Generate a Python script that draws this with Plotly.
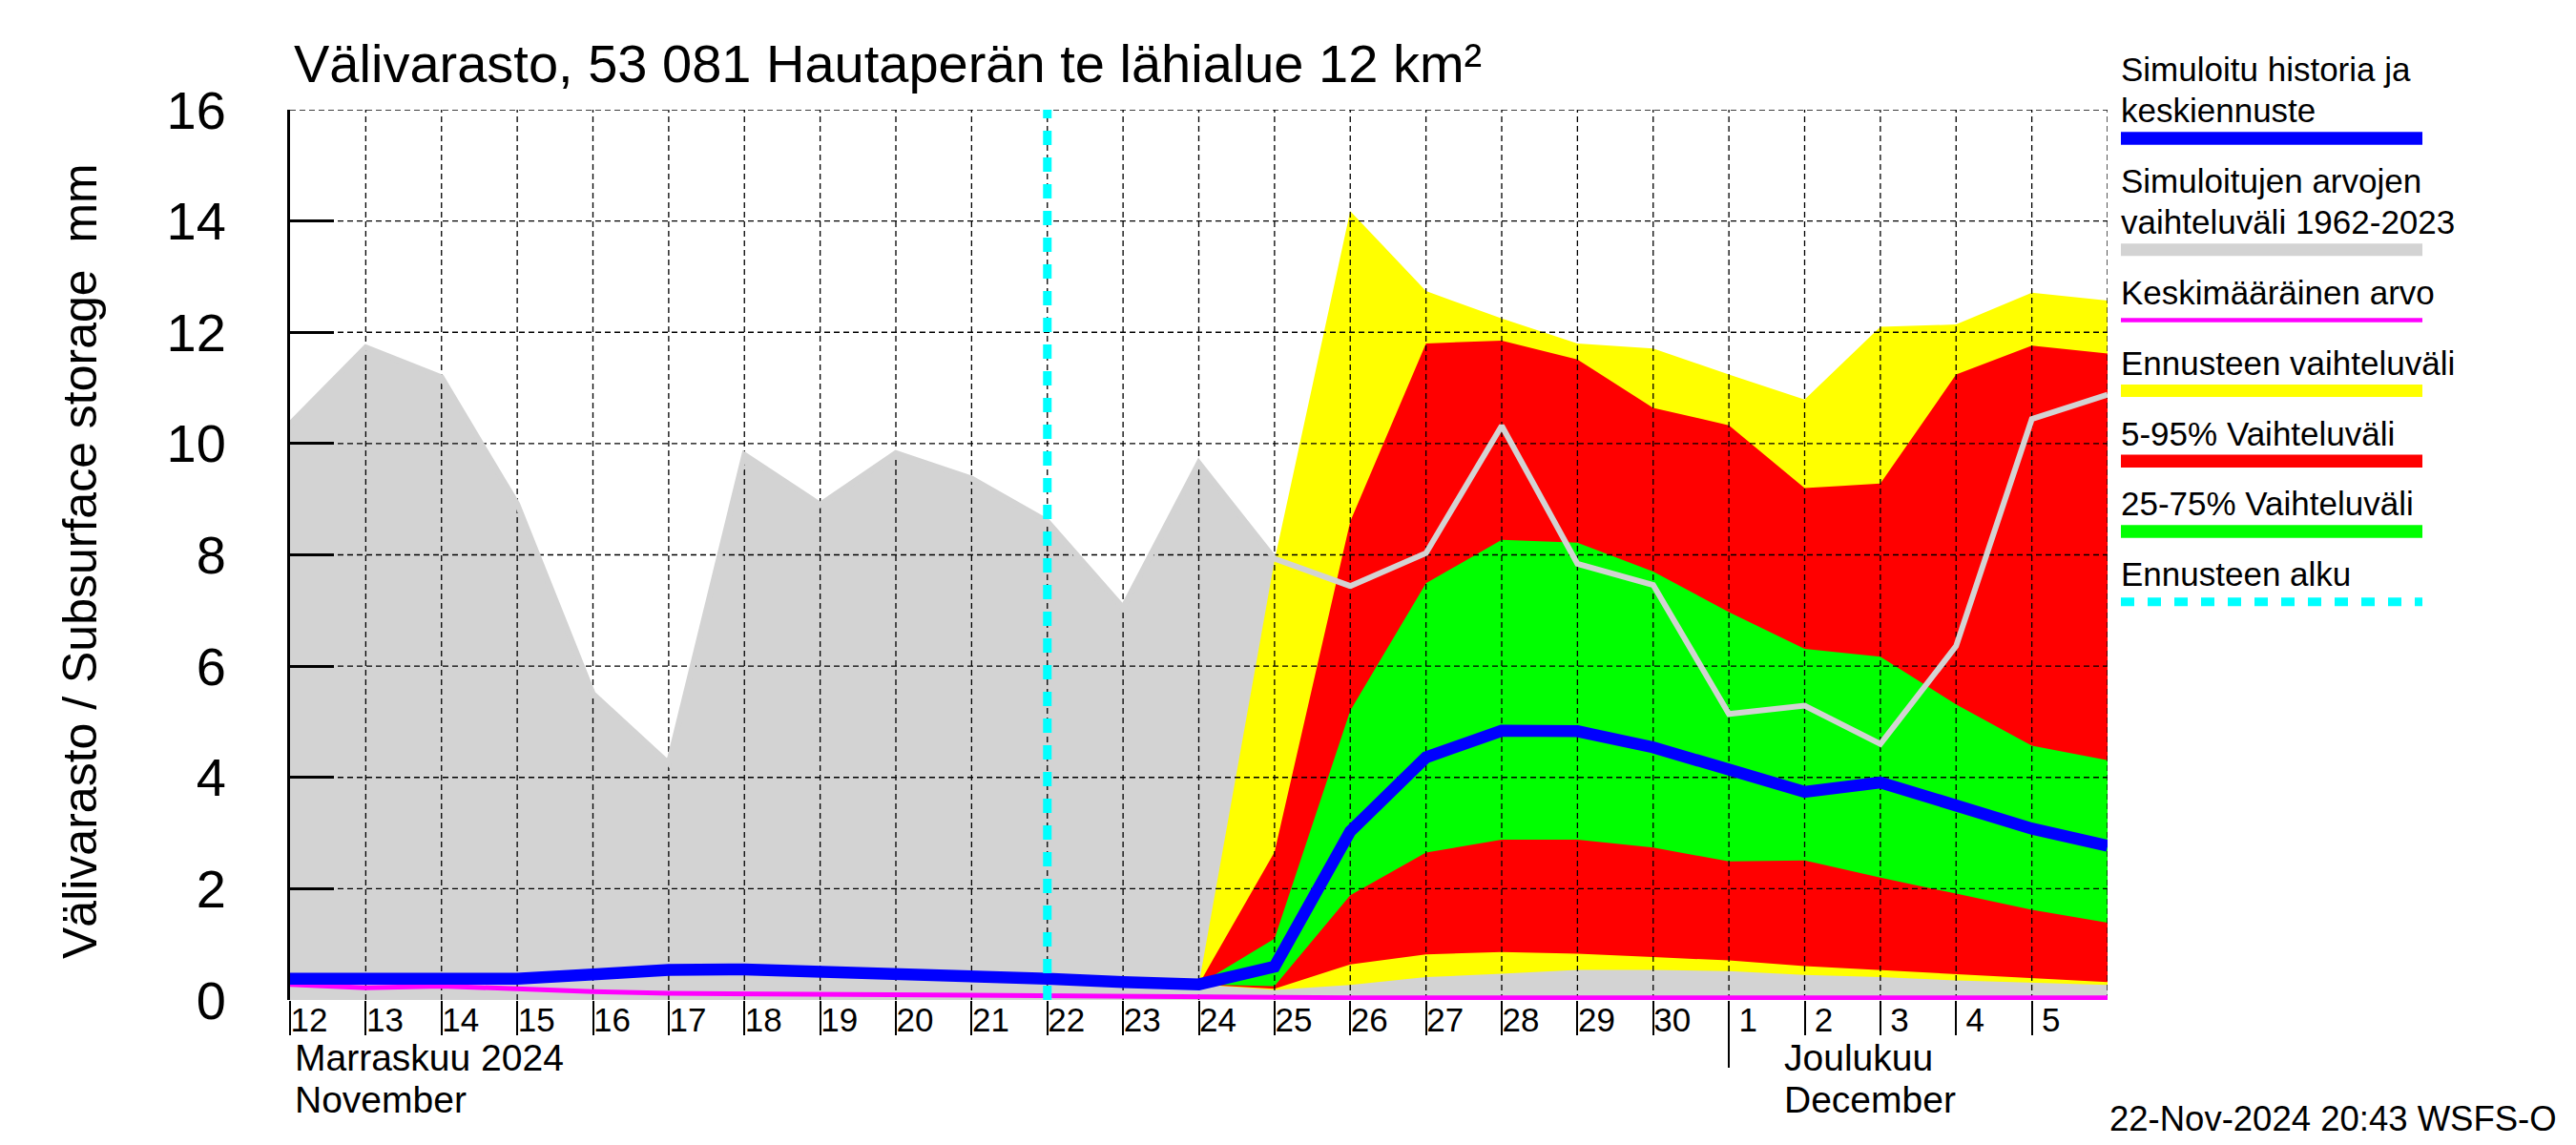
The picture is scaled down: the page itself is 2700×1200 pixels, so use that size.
import pandas as pd
import plotly.graph_objects as go

# ---------------- data ----------------
dates = list(pd.date_range("2024-11-12", "2024-12-06", freq="D"))
tick_labels = ["12", "13", "14", "15", "16", "17", "18", "19", "20", "21", "22", "23",
               "24", "25", "26", "27", "28", "29", "30", "1", "2", "3", "4", "5"]

# historical range 1962-2023 (grey)
hist_max = [10.35, 11.73, 11.19, 8.91, 5.5, 4.25, 9.8, 8.9, 9.83, 9.37, 8.6, 7.05,
            9.65, 7.93, 7.44, 8.03, 10.32, 7.84, 7.46, 5.14, 5.29, 4.6, 6.36, 10.44, 10.88]
hist_min = [0.0] * 25
# mean value (magenta)
mean_vals = [0.28, 0.22, 0.25, 0.19, 0.15, 0.12, 0.11, 0.10, 0.10, 0.07, 0.07, 0.06,
             0.05, 0.04, 0.04, 0.04, 0.04, 0.04, 0.04, 0.04, 0.04, 0.04, 0.04, 0.04, 0.04]
# simulated history and median forecast (blue)
median_vals = [0.38, 0.37, 0.37, 0.38, 0.46, 0.54, 0.55, 0.52, 0.48, 0.43, 0.38, 0.32,
               0.28, 0.6, 3.03, 4.36, 4.84, 4.83, 4.54, 4.14, 3.74, 3.91, 3.48, 3.08, 2.77]

# forecast period
fc_dates = dates[12:]
fc_min = [0.28, 0.18, 0.27, 0.41, 0.47, 0.54, 0.54, 0.52, 0.45, 0.41, 0.35, 0.31, 0.27]
fc_max = [0.28, 7.9, 14.18, 12.74, 12.25, 11.8, 11.71, 11.24, 10.79, 12.1, 12.14, 12.71, 12.57]
p05 = [0.28, 0.2, 0.64, 0.82, 0.86, 0.83, 0.77, 0.71, 0.61, 0.54, 0.47, 0.39, 0.32]
p95 = [0.28, 2.66, 8.6, 11.8, 11.85, 11.51, 10.64, 10.33, 9.2, 9.28, 11.24, 11.76, 11.62]
p25 = [0.28, 0.25, 1.88, 2.65, 2.88, 2.88, 2.74, 2.49, 2.51, 2.2, 1.91, 1.62, 1.39]
p75 = [0.28, 1.1, 5.2, 7.49, 8.27, 8.22, 7.7, 6.97, 6.31, 6.17, 5.31, 4.57, 4.31]

forecast_start = "2024-11-22 00:00"
y_ticks = [0, 2, 4, 6, 8, 10, 12, 14, 16]
month_starts = ["2024-12-01"]
month_names_fi = ["Marraskuu 2024", "Joulukuu"]
month_names_en = ["November", "December"]
month_label_pos = ["2024-11-12 01:00", "2024-12-01 17:00"]

title_text = "Välivarasto, 53 081 Hautaperän te lähialue 12 km²"
ytitle_text = "Välivarasto / Subsurface storage  mm"
stamp_text = "22-Nov-2024 20:43 WSFS-O"

legend_labels = [["Simuloitu historia ja", "keskiennuste"],
                 ["Simuloitujen arvojen", "vaihteluväli 1962-2023"],
                 ["Keskimääräinen arvo"],
                 ["Ennusteen vaihteluväli"],
                 ["5-95% Vaihteluväli"],
                 ["25-75% Vaihteluväli"],
                 ["Ennusteen alku"]]

# ---------------- style ----------------
FONT = "Liberation Sans, Arial, Helvetica, sans-serif"
GRAY = "#d3d3d3"
YELLOW = "#ffff00"
RED = "#ff0000"
GREEN = "#00ff00"
BLUE = "#0000ff"
MAGENTA = "#ff00ff"
CYAN = "#00ffff"
legend_colors = [BLUE, GRAY, MAGENTA, YELLOW, RED, GREEN, CYAN]
legend_widths = [13.5, 13, 4.5, 13, 13.5, 13.5, 9]
legend_dash = ["solid"] * 6 + ["14px,14px"]

W, H = 2700, 1200
OFF = 8  # page body margin compensation
PX_L, PX_T, PW, PH = 304, 115, 1905, 933   # plot area in target image pixels
L, T = PX_L - OFF, PX_T - OFF
R, B = W - L - PW, H - T - PH


def px2x(px):
    return (px - PX_L) / PW


def py2y(py):
    return (PX_T + PH - py) / PH


fig = go.Figure()


def band(x, lo, hi, color):
    fig.add_trace(go.Scatter(x=x, y=lo, mode="lines", line=dict(width=0, color=color),
                             showlegend=False, hoverinfo="skip"))
    fig.add_trace(go.Scatter(x=x, y=hi, mode="lines", line=dict(width=0, color=color),
                             fill="tonexty", fillcolor=color, showlegend=False, hoverinfo="skip"))


band(dates, hist_min, hist_max, GRAY)
band(fc_dates, fc_min, fc_max, YELLOW)
band(fc_dates, p05, p95, RED)
band(fc_dates, p25, p75, GREEN)

# dashed grid drawn over the filled areas
gx, gy = [], []
for d in dates[1:]:
    gx += [d, d, None]
    gy += [y_ticks[0], y_ticks[-1], None]
for v in y_ticks[1:]:
    gx += [dates[0], dates[-1], None]
    gy += [v, v, None]
fig.add_trace(go.Scatter(x=gx, y=gy, mode="lines", line=dict(color="black", width=1.3, dash="6px,4px"),
                         showlegend=False, hoverinfo="skip", connectgaps=False))

fig.add_trace(go.Scatter(x=dates, y=mean_vals, mode="lines", line=dict(color=MAGENTA, width=5),
                         showlegend=False))
fig.add_trace(go.Scatter(x=dates, y=median_vals, mode="lines", line=dict(color=BLUE, width=12.5),
                         showlegend=False))
fig.add_trace(go.Scatter(x=dates, y=hist_max, mode="lines", line=dict(color=GRAY, width=6),
                         showlegend=False))
fig.add_trace(go.Scatter(x=[forecast_start, forecast_start], y=[y_ticks[0], y_ticks[-1]], mode="lines",
                         line=dict(color=CYAN, width=9, dash="15px,13px"), showlegend=False,
                         xaxis="x2"))

xrange = [dates[0], dates[-1]]
fig.update_layout(
    width=W, height=H,
    margin=dict(l=L, r=R, t=T, b=B, autoexpand=False),
    paper_bgcolor="white", plot_bgcolor="white",
    font=dict(family=FONT, color="black"),
    showlegend=False,
    xaxis=dict(type="date", range=xrange, tickmode="array", tickvals=dates[:-1], ticktext=tick_labels,
               ticks="outside", ticklen=36, tickwidth=1.5, tickcolor="black",
               showgrid=False, showline=False, zeroline=False,
               tickfont=dict(size=35, family=FONT), ticklabelshift=20, ticklabelstandoff=-46),
    xaxis2=dict(type="date", range=xrange, overlaying="x", anchor="y", side="bottom",
                tickmode="array", tickvals=month_starts, ticks="outside", ticklen=70, tickwidth=1.5,
                tickcolor="black", showticklabels=False, showgrid=False, showline=False, zeroline=False),
    yaxis=dict(range=[y_ticks[0], y_ticks[-1]], tickmode="array", tickvals=y_ticks,
               ticks="inside", ticklen=46, tickwidth=3, tickcolor="black",
               showline=True, linewidth=3, linecolor="black", showgrid=False, zeroline=False,
               layer="above traces", tickfont=dict(size=56, family=FONT), ticklabelstandoff=53),
)

ann = []
ann.append(dict(text=title_text, xref="paper", yref="paper", x=px2x(306), y=py2y(86 - 0.3465 * 56),
                xanchor="left", yanchor="middle", showarrow=False, font=dict(size=56, family=FONT)))
ann.append(dict(text=ytitle_text, xref="paper", yref="paper", x=px2x(84), y=py2y(588),
                xanchor="center", yanchor="middle", textangle=-90, showarrow=False,
                font=dict(size=50, family=FONT)))
MF = 39
for i, (fi, en) in enumerate(zip(month_names_fi, month_names_en)):
    ann.append(dict(text=fi, x=month_label_pos[i], xref="x", yref="paper", y=py2y(1122 - 0.3465 * MF),
                    xanchor="left", yanchor="middle", showarrow=False, font=dict(size=MF, family=FONT)))
    ann.append(dict(text=en, x=month_label_pos[i], xref="x", yref="paper", y=py2y(1166 - 0.3465 * MF),
                    xanchor="left", yanchor="middle", showarrow=False, font=dict(size=MF, family=FONT)))
ann.append(dict(text=stamp_text, xref="paper", yref="paper", x=px2x(2682), y=py2y(1172),
                xanchor="right", yanchor="middle", showarrow=False, font=dict(size=36.5, family=FONT)))

shapes = []
base = 85.0
for lines, col, lw, dsh in zip(legend_labels, legend_colors, legend_widths, legend_dash):
    for j, line in enumerate(lines):
        bl = base + 43 * j
        ann.append(dict(text=line, xref="paper", yref="paper", x=px2x(2221), y=py2y(bl - 0.3465 * 35),
                        xanchor="left", yanchor="middle", showarrow=False, font=dict(size=35, family=FONT)))
    bar_y = base + 43 * (len(lines) - 1) + 17
    shapes.append(dict(type="line", xref="paper", yref="paper", x0=px2x(2223), x1=px2x(2539),
                       y0=py2y(bar_y), y1=py2y(bar_y), line=dict(color=col, width=lw, dash=dsh)))
    base = bar_y + 56.8

fig.update_layout(annotations=ann, shapes=shapes)
fig.write_html("out.html")
